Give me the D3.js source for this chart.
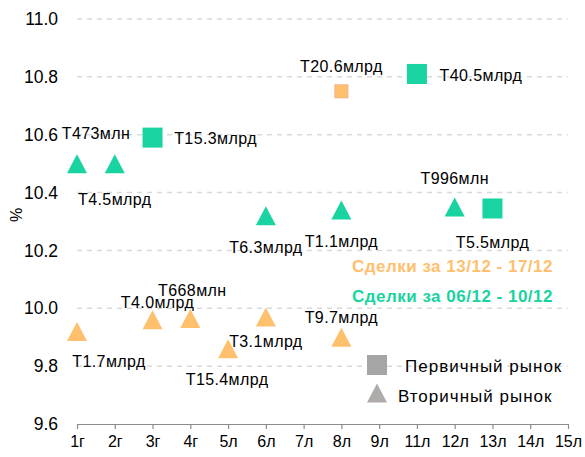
<!DOCTYPE html>
<html>
<head>
<meta charset="utf-8">
<script src="https://cdn.jsdelivr.net/npm/d3@7/dist/d3.min.js"></script>
<style>
  body { margin: 0; background: #fff; }
  svg { display: block; font-family: "Liberation Sans", Arial, sans-serif; }
</style>
</head>
<body>
<svg id="chart" width="585" height="457"></svg>
<script>
    "use strict";

    // категории по оси X (сроки)
    const categories = ['1г', '2г', '3г', '4г', '5л', '6л', '7л', '8л', '9л', '11л', '12л', '13л', '14л', '15л'];
    const yTicks = [9.6, 9.8, 10.0, 10.2, 10.4, 10.6, 10.8, 11.0];

    // сделки за 06/12 - 10/12
    const greenPrimaryCats = ['3г', '11л', '13л'];
    const greenPrimaryVals = [10.59, 10.81, 10.345];
    const greenPrimaryLabels = ['T15.3млрд', 'T40.5млрд', 'T5.5млрд'];

    const greenSecondaryCats = ['1г', '2г', '6л', '8л', '12л'];
    const greenSecondaryVals = [10.50, 10.50, 10.32, 10.34, 10.35];
    const greenSecondaryLabels = ['T473млн', 'T4.5млрд', 'T6.3млрд', 'T1.1млрд', 'T996млн'];

    // сделки за 13/12 - 17/12
    const orangePrimaryCats = ['8л'];
    const orangePrimaryVals = [10.75];
    const orangePrimaryLabels = ['T20.6млрд'];

    const orangeSecondaryCats = ['1г', '3г', '4г', '5л', '6л', '8л'];
    const orangeSecondaryVals = [9.92, 9.96, 9.965, 9.86, 9.97, 9.90];
    const orangeSecondaryLabels = ['T1.7млрд', 'T4.0млрд', 'T668млн', 'T15.4млрд', 'T3.1млрд', 'T9.7млрд'];

    const legendNames = ['Первичный рынок', 'Вторичный рынок'];
    const periodNames = ['Сделки за 13/12 - 17/12', 'Сделки за 06/12 - 10/12'];

    const GREEN = '#19d3a0',
        ORANGE = '#ffc06e';

    // смещения подписей относительно точки
    const labelOffset = {
        'T15.3млрд': [63, 1], 'T40.5млрд': [64, 2], 'T5.5млрд': [0, 34],
        'T473млн': [19, -30], 'T4.5млрд': [0, 36], 'T6.3млрд': [0, 32], 'T1.1млрд': [0, 32], 'T996млн': [0, -29],
        'T20.6млрд': [0, -25],
        'T1.7млрд': [32, 30], 'T4.0млрд': [5, -17], 'T668млн': [2, -28], 'T15.4млрд': [-1, 31], 'T3.1млрд': [0, 25], 'T9.7млрд': [0, -20]
    };

    const svg = d3.select('#chart');

    const x = d3.scalePoint().domain(categories).range([77, 568]),
        y = d3.scaleLinear().domain([9.6, 11.0]).range([424, 19]);

    // сетка
    svg.append('g')
        .selectAll('line')
        .data(yTicks.slice(1))
        .enter()
        .append('line')
        .attr('x1', 77).attr('x2', 568)
        .attr('y1', d => y(d)).attr('y2', d => y(d))
        .attr('stroke', '#d9d9d9')
        .attr('stroke-width', 1.5)
        .attr('stroke-dasharray', '5,5');

    // ось Y (только подписи)
    let yAxis = svg.append('g')
        .attr('transform', 'translate(63,0)')
        .call(d3.axisLeft(y).tickValues(yTicks).tickFormat(d3.format('.1f')).tickSize(0).tickPadding(5));
    yAxis.select('.domain').remove();
    yAxis.selectAll('text')
        .attr('font-size', 17.5)
        .attr('font-family', '"Liberation Sans", Arial, sans-serif')
        .attr('fill', '#000');

    // ось X
    let xAxis = svg.append('g')
        .attr('transform', 'translate(0,' + y(9.6) + ')')
        .call(d3.axisBottom(x).tickSizeInner(5).tickSizeOuter(0).tickPadding(7));
    xAxis.select('.domain').attr('stroke', '#8c8c8c').attr('stroke-width', 1.2);
    xAxis.selectAll('.tick line').attr('stroke', '#8c8c8c').attr('stroke-width', 1.2);
    xAxis.selectAll('text')
        .attr('font-size', 16)
        .attr('font-family', '"Liberation Sans", Arial, sans-serif')
        .attr('fill', '#000');

    svg.append('text')
        .attr('transform', 'translate(16,215) rotate(-90)')
        .attr('text-anchor', 'middle')
        .attr('dominant-baseline', 'central')
        .attr('font-size', 16)
        .text('%');

    let triPath = (w, h) => 'M0,' + (-h / 2) + 'L' + (w / 2) + ',' + (h / 2) + 'L' + (-w / 2) + ',' + (h / 2) + 'Z';

    let zip = (cats, vals, labels) => cats.map((c, i) => ({cat: c, val: vals[i], label: labels[i]}));

    let drawSquares = (data, size, fill, stroke) => {
        svg.append('g').selectAll('rect')
            .data(data)
            .enter()
            .append('rect')
            .attr('x', d => x(d.cat) - size / 2)
            .attr('y', d => y(d.val) - size / 2)
            .attr('width', size).attr('height', size)
            .attr('fill', fill)
            .attr('stroke', stroke || 'none');
    };

    let drawTriangles = (data, fill) => {
        svg.append('g').selectAll('path')
            .data(data)
            .enter()
            .append('path')
            .attr('d', triPath(20, 19))
            .attr('transform', d => 'translate(' + x(d.cat) + ',' + y(d.val) + ')')
            .attr('fill', fill);
    };

    let drawLabels = (data) => {
        svg.append('g').selectAll('text')
            .data(data)
            .enter()
            .append('text')
            .attr('x', d => x(d.cat) + labelOffset[d.label][0])
            .attr('y', d => y(d.val) + labelOffset[d.label][1])
            .attr('text-anchor', 'middle')
            .attr('dominant-baseline', 'central')
            .attr('font-size', 16)
            .attr('letter-spacing', 0.4)
            .attr('fill', '#000')
            .text(d => d.label);
    };

    const gP = zip(greenPrimaryCats, greenPrimaryVals, greenPrimaryLabels),
        gS = zip(greenSecondaryCats, greenSecondaryVals, greenSecondaryLabels),
        oP = zip(orangePrimaryCats, orangePrimaryVals, orangePrimaryLabels),
        oS = zip(orangeSecondaryCats, orangeSecondaryVals, orangeSecondaryLabels);

    drawTriangles(oS, ORANGE);
    drawSquares(oP, 13, ORANGE, '#f4b183');
    drawTriangles(gS, GREEN);
    drawSquares(gP, 20, GREEN);

    drawLabels(gP);
    drawLabels(gS);
    drawLabels(oP);
    drawLabels(oS);

    // подписи периодов
    svg.append('g').selectAll('text')
        .data(periodNames)
        .enter()
        .append('text')
        .attr('x', 553)
        .attr('y', (d, i) => 266 + i * 30)
        .attr('text-anchor', 'end')
        .attr('dominant-baseline', 'central')
        .attr('font-size', 17)
        .attr('letter-spacing', 0.5)
        .attr('font-weight', 'bold')
        .attr('fill', (d, i) => i === 0 ? ORANGE : GREEN)
        .text(d => d);

    // легенда
    let legend = svg.append('g');
    legend.append('rect')
        .attr('x', 367).attr('y', 355)
        .attr('width', 20).attr('height', 20)
        .attr('fill', '#a5a5a5');
    legend.append('path')
        .attr('d', triPath(20, 19))
        .attr('transform', 'translate(377,393)')
        .attr('fill', '#afabab');
    legend.selectAll('text')
        .data(legendNames)
        .enter()
        .append('text')
        .attr('x', (d, i) => i === 0 ? 405 : 398)
        .attr('y', (d, i) => i === 0 ? 366 : 396)
        .attr('dominant-baseline', 'central')
        .attr('font-size', 17)
        .attr('letter-spacing', 1)
        .attr('fill', '#000')
        .text(d => d);
</script>
</body>
</html>
